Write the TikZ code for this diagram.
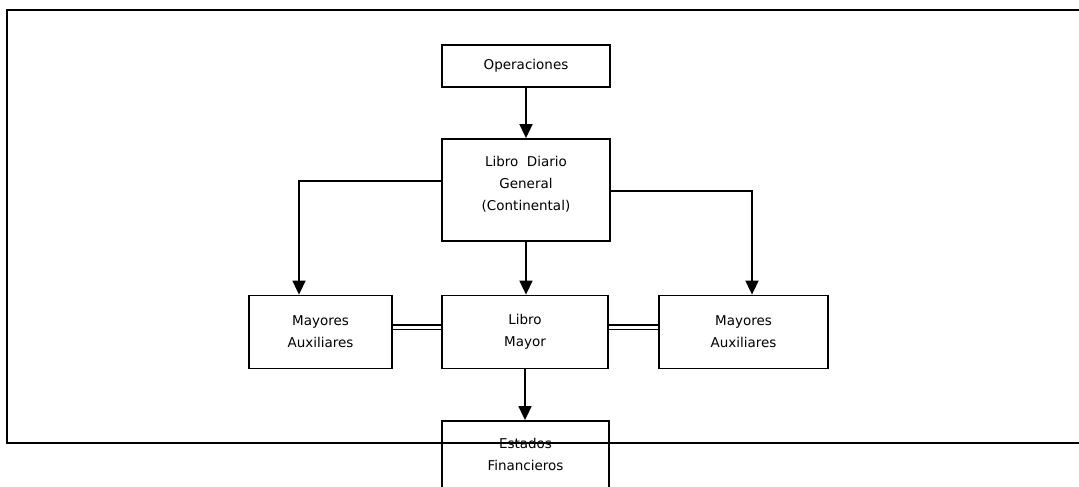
\documentclass[tikz,border=0pt]{standalone}
\usepackage{fontspec}
\setmainfont{DejaVu Sans}
\usetikzlibrary{arrows.meta}
\begin{document}
\begin{tikzpicture}[x=1pt,y=-1pt,
  box/.style={draw, line width=1.8pt, align=center, inner sep=0pt,
    font=\fontsize{13.5}{22}\selectfont},
  caption/.style={align=center, inner sep=0pt, font=\fontsize{13.5}{22}\selectfont},
  flow/.style={line width=1.7pt, -{Triangle[width=13pt,length=14pt]}},
  link/.style={double, double distance=3pt, line width=1.3pt},
  border/.style={line width=2pt}]
\useasboundingbox (0,0) rectangle (1079,487);
\clip (0,0) rectangle (1079,487);

% boxes
\node[box, minimum width=168pt, minimum height=42pt] (ops) at (526,66) {Operaciones};
\node[box, minimum width=168pt, minimum height=102pt] (diario) at (526,190) {};
\node[caption] (diarioText) at (526,184) {Libro\ \ Diario\\General\\(Continental)};
\node[box, minimum width=143pt, minimum height=73pt] (mayL) at (320.5,332) {Mayores\\Auxiliares};
\node[box, minimum width=166pt, minimum height=73pt] (mayor) at (525,332) {Libro\\Mayor};
\node[box, minimum width=169pt, minimum height=73pt] (mayR) at (743.5,332) {Mayores\\Auxiliares};
\node[box, minimum width=167pt, minimum height=70pt] (est) at (525.5,456) {};
\node[caption] (estText) at (525.5,454) {Estados\\Financieros};

% flow arrows
\draw[flow] (ops.south) -- (diario.north);
\draw[flow] (diario.west |- 0,181) -| ([xshift=-21.5pt]mayL.north);
\draw[flow] (diario.east |- 0,191) -| ([xshift=8.5pt]mayR.north);
\draw[flow] (diario.south) -- (diario.south |- mayor.north);
\draw[flow] (mayor.south) -- (mayor.south |- est.north);

% ledger links
\draw[link] ([yshift=5pt]mayL.east) -- ([yshift=5pt]mayor.west);
\draw[link] ([yshift=5pt]mayor.east) -- ([yshift=5pt]mayR.west);

% page frame
\coordinate (ftr) at (1080,10);
\coordinate (ftl) at (7,10);
\coordinate (fbl) at (7,443);
\coordinate (fbr) at (1080,443);
\draw[border] (ftr) -- (ftl) -- (fbl) -- (fbr);
\end{tikzpicture}
\end{document}
